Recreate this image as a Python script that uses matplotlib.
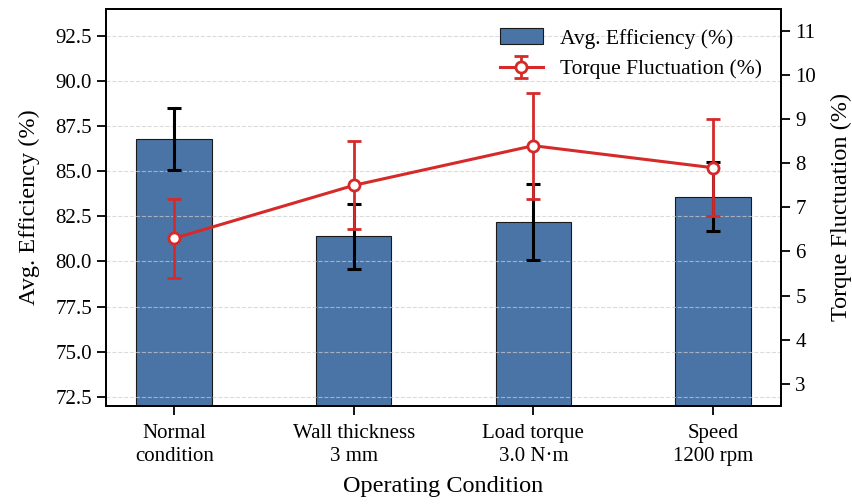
import numpy as np
import matplotlib.pyplot as plt

# dados
condicoes = ["Normal\ncondition", "Wall thickness\n3 mm", "Load torque\n3.0 N·m", "Speed\n1200 rpm"]
eficiencia = [86.8, 81.4, 82.2, 83.6]
eficiencia_err = [1.7, 1.8, 2.1, 1.9]
flutuacao = [6.3, 7.5, 8.4, 7.9]
flutuacao_err = [0.9, 1.0, 1.2, 1.1]

plt.rcParams['font.family'] = ['Liberation Serif', 'DejaVu Serif']
plt.rcParams['font.size'] = 15

fig = plt.figure(figsize=(8.53, 5.04), dpi=100)
ax = fig.add_axes([0.124, 0.195, 0.792, 0.787])

x = np.arange(len(condicoes))

# barras
barras = ax.bar(x, eficiencia, width=0.42, color='#4a74a6', edgecolor='#1a1a1a',
                linewidth=0.8, label='Avg. Efficiency (%)')
ax.errorbar(x, eficiencia, yerr=eficiencia_err, fmt='none', ecolor='black',
            elinewidth=2.2, capsize=5, capthick=2.2, zorder=3)

ax.set_ylim(72, 94)
ax.set_yticks(np.arange(72.5, 93, 2.5))
ax.set_xticks(x)
ax.set_xticklabels(condicoes, fontsize=15, linespacing=1.25)
ax.set_xlabel("Operating Condition", fontsize=17.5, labelpad=7)
ax.set_ylabel("Avg. Efficiency (%)", fontsize=17.5, labelpad=11)
ax.grid(axis='y', linestyle='--', color='#cccccc', alpha=0.7, linewidth=0.8)

# eixo secundario
ax2 = ax.twinx()
linha = ax2.errorbar(x, flutuacao, yerr=flutuacao_err, color='#d62a2a', linewidth=2.2,
                     marker='o', markersize=8, markerfacecolor='white',
                     markeredgecolor='#d62a2a', markeredgewidth=2,
                     elinewidth=2, capsize=5, capthick=2,
                     label='Torque Fluctuation (%)')
ax2.set_ylim(2.5, 11.5)
ax2.set_yticks(range(3, 12))
ax2.set_ylabel("Torque Fluctuation (%)", fontsize=17.5, labelpad=11)

for a in (ax, ax2):
    for s in a.spines.values():
        s.set_linewidth(1.3)
    a.tick_params(width=1.3, length=6.5, labelsize=15)
ax.tick_params(axis='x', pad=7)

# legenda
h1, l1 = ax.get_legend_handles_labels()
h2, l2 = ax2.get_legend_handles_labels()
ax2.legend(h1 + h2, l1 + l2, loc='upper right', frameon=False, fontsize=15.5)

fig.savefig("out.png", dpi=100)
